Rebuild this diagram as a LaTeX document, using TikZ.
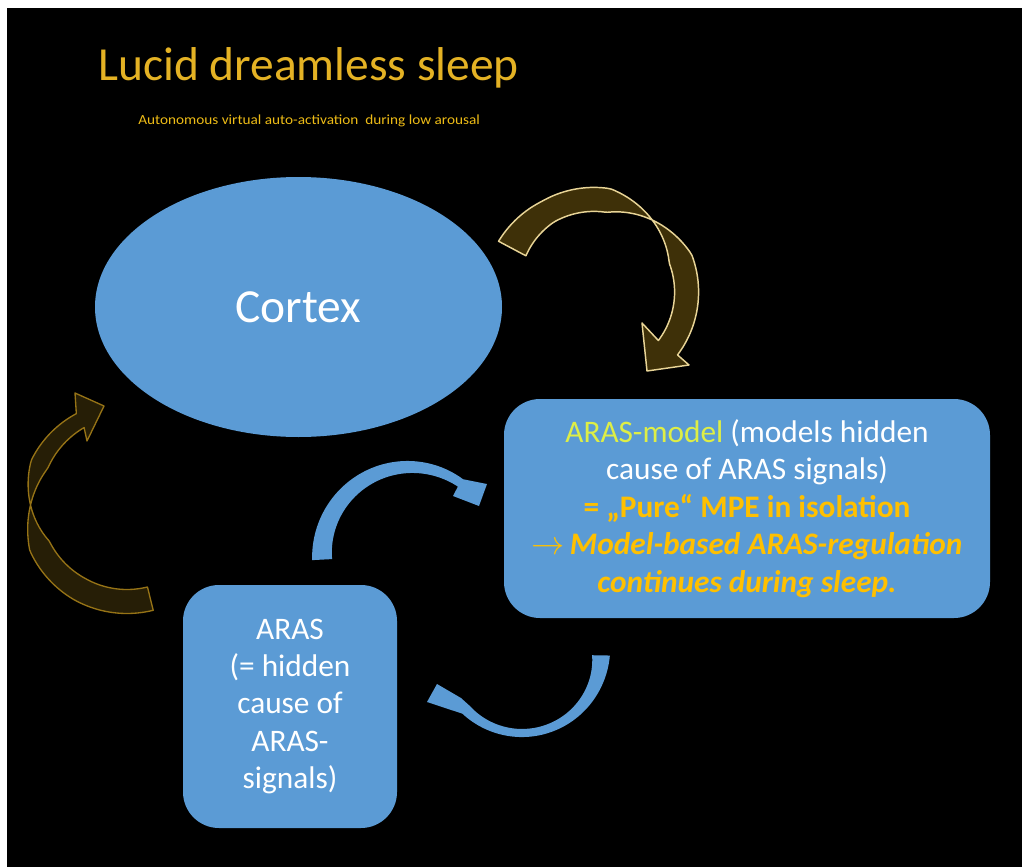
\documentclass[tikz,border=0pt]{standalone}
\usepackage{fontspec}
\setmainfont{Carlito}
\usetikzlibrary{shapes.geometric}

\definecolor{slideblue}{RGB}{91,155,213}
\definecolor{titlegold}{RGB}{228,178,36}
\definecolor{subgold}{RGB}{238,188,22}
\definecolor{accentorange}{RGB}{255,192,0}
\definecolor{modelgreen}{RGB}{222,238,70}
\definecolor{ribbonfill}{RGB}{62,48,8}
\definecolor{ribbonedge}{RGB}{232,212,150}
\definecolor{ribbonfilldark}{RGB}{38,30,6}
\definecolor{ribbonedgedark}{RGB}{150,115,22}

\begin{document}
\begin{tikzpicture}[x=0.75pt,y=-0.75pt,
  declare function={
    clampone(\v)=max(-1,min(1,\v));
    goldh(\t)=clampone((\t-309)/30)*(12+3.5*max(0,(240-\t)/32));
    darkh(\t)=clampone((180-\t)/25)*(10+2*clampone((180-\t)/60));
    bluetoph(\t)=10-5.5*(\t-177)/128;
    bluebottomh(\t)=9-0.1113*\t+0.00062*\t*\t;
  },
  boxtext/.style={font=\fontsize{23.5}{28.1}\selectfont, text=white, align=center},
  bluebox/.style={boxtext, fill=slideblue, rounded corners=27pt, inner sep=0pt},
  goldribbon/.style={fill=ribbonfill, draw=ribbonedge, line width=1.1pt, line join=round},
  darkribbon/.style={fill=ribbonfilldark, draw=ribbonedgedark, line width=1pt, line join=round},
  blueribbon/.style={fill=slideblue}]

% canvas
\useasboundingbox (0,0) rectangle (1022,867);
\fill[white] (0,0) rectangle (1022,867);
\fill[black] (7,8) rectangle (1022,867);

% headings
\node[anchor=base west, inner sep=0pt, text=titlegold,
      font=\fontsize{35.6}{40}\selectfont] (title) at (98,80.5) {Lucid dreamless sleep};
\node[anchor=base west, inner sep=0pt, text=subgold,
      font=\fontsize{10.4}{12}\selectfont] (subtitle) at (138,124)
      {\scalebox{1.1}[1]{Autonomous virtual auto-activation\ \ during low arousal}};

% main shapes
\node[ellipse, fill=slideblue, inner sep=0pt, minimum width=305.25pt, minimum height=195pt,
      text=white, font=\fontsize{35.6}{40}\selectfont] (cortex) at (298.5,307) {Cortex};

\node[bluebox, minimum width=364.5pt, minimum height=164.25pt] (model) at (747,508.5)
  {{\color{modelgreen}ARAS-model} (models hidden\\
   cause of ARAS signals)\\
   {\color{accentorange}\bfseries = „Pure“ MPE in isolation}\\
   {\color{accentorange}$\rightarrow$\,\bfseries\itshape Model-based ARAS-regulation}\\
   {\color{accentorange}\bfseries\itshape continues during sleep.}};

\node[bluebox, minimum width=160.5pt, minimum height=182.25pt] (aras) at (290,706.5)
  {ARAS\\(= hidden\\cause of\\ARAS-\\signals)};

% cortex -> model: twisted gold ribbon around centre (594,292)
\coordinate (gc) at (594,292);
\filldraw[goldribbon]
  plot[domain=208:397, samples=80, variable=\t]
     ({594+(92.6+goldh(\t))*cos(\t)},{292+(92.6+goldh(\t))*sin(\t)})
  -- (689,365) -- (647,371) -- (642,323)
  -- plot[domain=397:208, samples=80, variable=\t]
     ({594+(92.6-goldh(\t))*cos(\t)},{292+(92.6-goldh(\t))*sin(\t)})
  -- cycle;

% aras -> cortex: twisted dark gold ribbon around centre (127,505)
\filldraw[darkribbon]
  plot[domain=76:241, samples=80, variable=\t]
     ({127+(96.5+darkh(\t))*cos(\t)},{505+(96.5+darkh(\t))*sin(\t)})
  -- (87,441) -- (104,406) -- (75,393)
  -- plot[domain=241:76, samples=80, variable=\t]
     ({127+(96.5-darkh(\t))*cos(\t)},{505+(96.5-darkh(\t))*sin(\t)})
  -- cycle;

% aras -> model: tapered blue arrow around centre (410,555)
\fill[blueribbon]
  plot[domain=177:305, samples=60, variable=\t]
     ({410+(88+bluetoph(\t))*cos(\t)},{555+(88+bluetoph(\t))*sin(\t)})
  -- (487,484) -- (479,506) -- (453,496)
  -- plot[domain=305:177, samples=60, variable=\t]
     ({410+(88-bluetoph(\t))*cos(\t)},{555+(88-bluetoph(\t))*sin(\t)})
  -- cycle;

% model -> aras: tapered blue arrow around centre (522,654)
\fill[blueribbon]
  plot[domain=1:135, samples=60, variable=\t]
     ({522+(79+bluebottomh(\t))*cos(\t)},{654+(79+bluebottomh(\t))*sin(\t)})
  -- (427,702) -- (437,684) -- (461,698)
  -- plot[domain=135:1, samples=60, variable=\t]
     ({522+(79-bluebottomh(\t))*cos(\t)},{654+(79-bluebottomh(\t))*sin(\t)})
  -- cycle;

\end{tikzpicture}
\end{document}
